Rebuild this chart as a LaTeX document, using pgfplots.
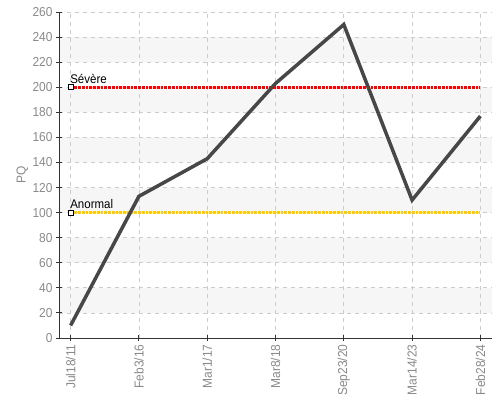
\documentclass[border=0pt]{standalone}
\usepackage{fontspec}
\setmainfont{Liberation Sans}[FakeStretch=0.92]
\usepackage{pgfplots}
\pgfplotsset{compat=1.18}
\definecolor{tickgray}{HTML}{8A8A8A}
\definecolor{axisdark}{HTML}{333333}
\definecolor{gridgray}{HTML}{CCCCCC}
\definecolor{bandgray}{HTML}{F6F6F6}
\definecolor{linegray}{HTML}{474747}
\definecolor{sevred}{HTML}{FF0000}
\definecolor{anoryellow}{HTML}{FFCC00}
\begin{document}
\begin{tikzpicture}
\begin{axis}[
  set layers,
  at={(0,0)}, anchor=south west,
  scale only axis, width=433pt, height=326pt,
  xmin=-0.17, xmax=6.17, ymin=0, ymax=260,
  axis x line*=bottom, axis y line*=left,
  xtick={0,1,2,3,4,5,6},
  xticklabels={Jul18/11,Feb3/16,Mar1/17,Mar8/18,Sep23/20,Mar14/23,Feb28/24},
  ytick={0,20,...,260},
  tick align=center, major tick length=6pt,
  tick style={color=axisdark, line width=0.9pt},
  axis line style={color=axisdark, line width=1pt},
  grid=major,
  grid style={color=gridgray, dash pattern=on 4pt off 4pt, line width=0.7pt},
  /pgf/number format/assume math mode=true,
  ticklabel style={font=\fontsize{13}{15}\selectfont, color=tickgray},
  xticklabel style={rotate=90, anchor=east},
  ylabel={PQ},
  ylabel style={font=\fontsize{13}{15}\selectfont, color=tickgray, at={(axis description cs:-0.085,0.5)}, anchor=center},
  clip=false,
]
\addplot[on layer=axis background, fill=bandgray, draw=none] coordinates {(-0.17,20) (6.17,20) (6.17,40) (-0.17,40)} -- cycle;
\addplot[on layer=axis background, fill=bandgray, draw=none] coordinates {(-0.17,60) (6.17,60) (6.17,80) (-0.17,80)} -- cycle;
\addplot[on layer=axis background, fill=bandgray, draw=none] coordinates {(-0.17,100) (6.17,100) (6.17,120) (-0.17,120)} -- cycle;
\addplot[on layer=axis background, fill=bandgray, draw=none] coordinates {(-0.17,140) (6.17,140) (6.17,160) (-0.17,160)} -- cycle;
\addplot[on layer=axis background, fill=bandgray, draw=none] coordinates {(-0.17,180) (6.17,180) (6.17,200) (-0.17,200)} -- cycle;
\addplot[on layer=axis background, fill=bandgray, draw=none] coordinates {(-0.17,220) (6.17,220) (6.17,240) (-0.17,240)} -- cycle;
\addplot[color=sevred, line width=3.3pt, dash pattern=on 2.75pt off 1pt] coordinates {(0,200) (6,200)};
\addplot[color=anoryellow, line width=3.3pt, dash pattern=on 2.75pt off 1pt] coordinates {(0,100) (6,100)};
\addplot[color=linegray, line width=3.5pt] coordinates {(0,10) (1,113) (2,143) (3,203) (4,250) (5,110) (6,177)};
\addplot[only marks, mark=square*, mark size=2.5pt, mark options={fill=white, draw=black, line width=0.8pt}] coordinates {(0,200) (0,100)};
\node[anchor=base west, inner sep=0pt, font=\fontsize{12.5}{14}\selectfont, text=black] at (axis cs:0,200) [yshift=4pt, xshift=-0.5pt] {Sévère};
\node[anchor=base west, inner sep=0pt, font=\fontsize{12.5}{14}\selectfont, text=black] at (axis cs:0,100) [yshift=4pt, xshift=-0.5pt] {Anormal};
\end{axis}
\pgfresetboundingbox
\useasboundingbox (-59pt,-64pt) rectangle (441pt,338pt);
\end{tikzpicture}
\end{document}
